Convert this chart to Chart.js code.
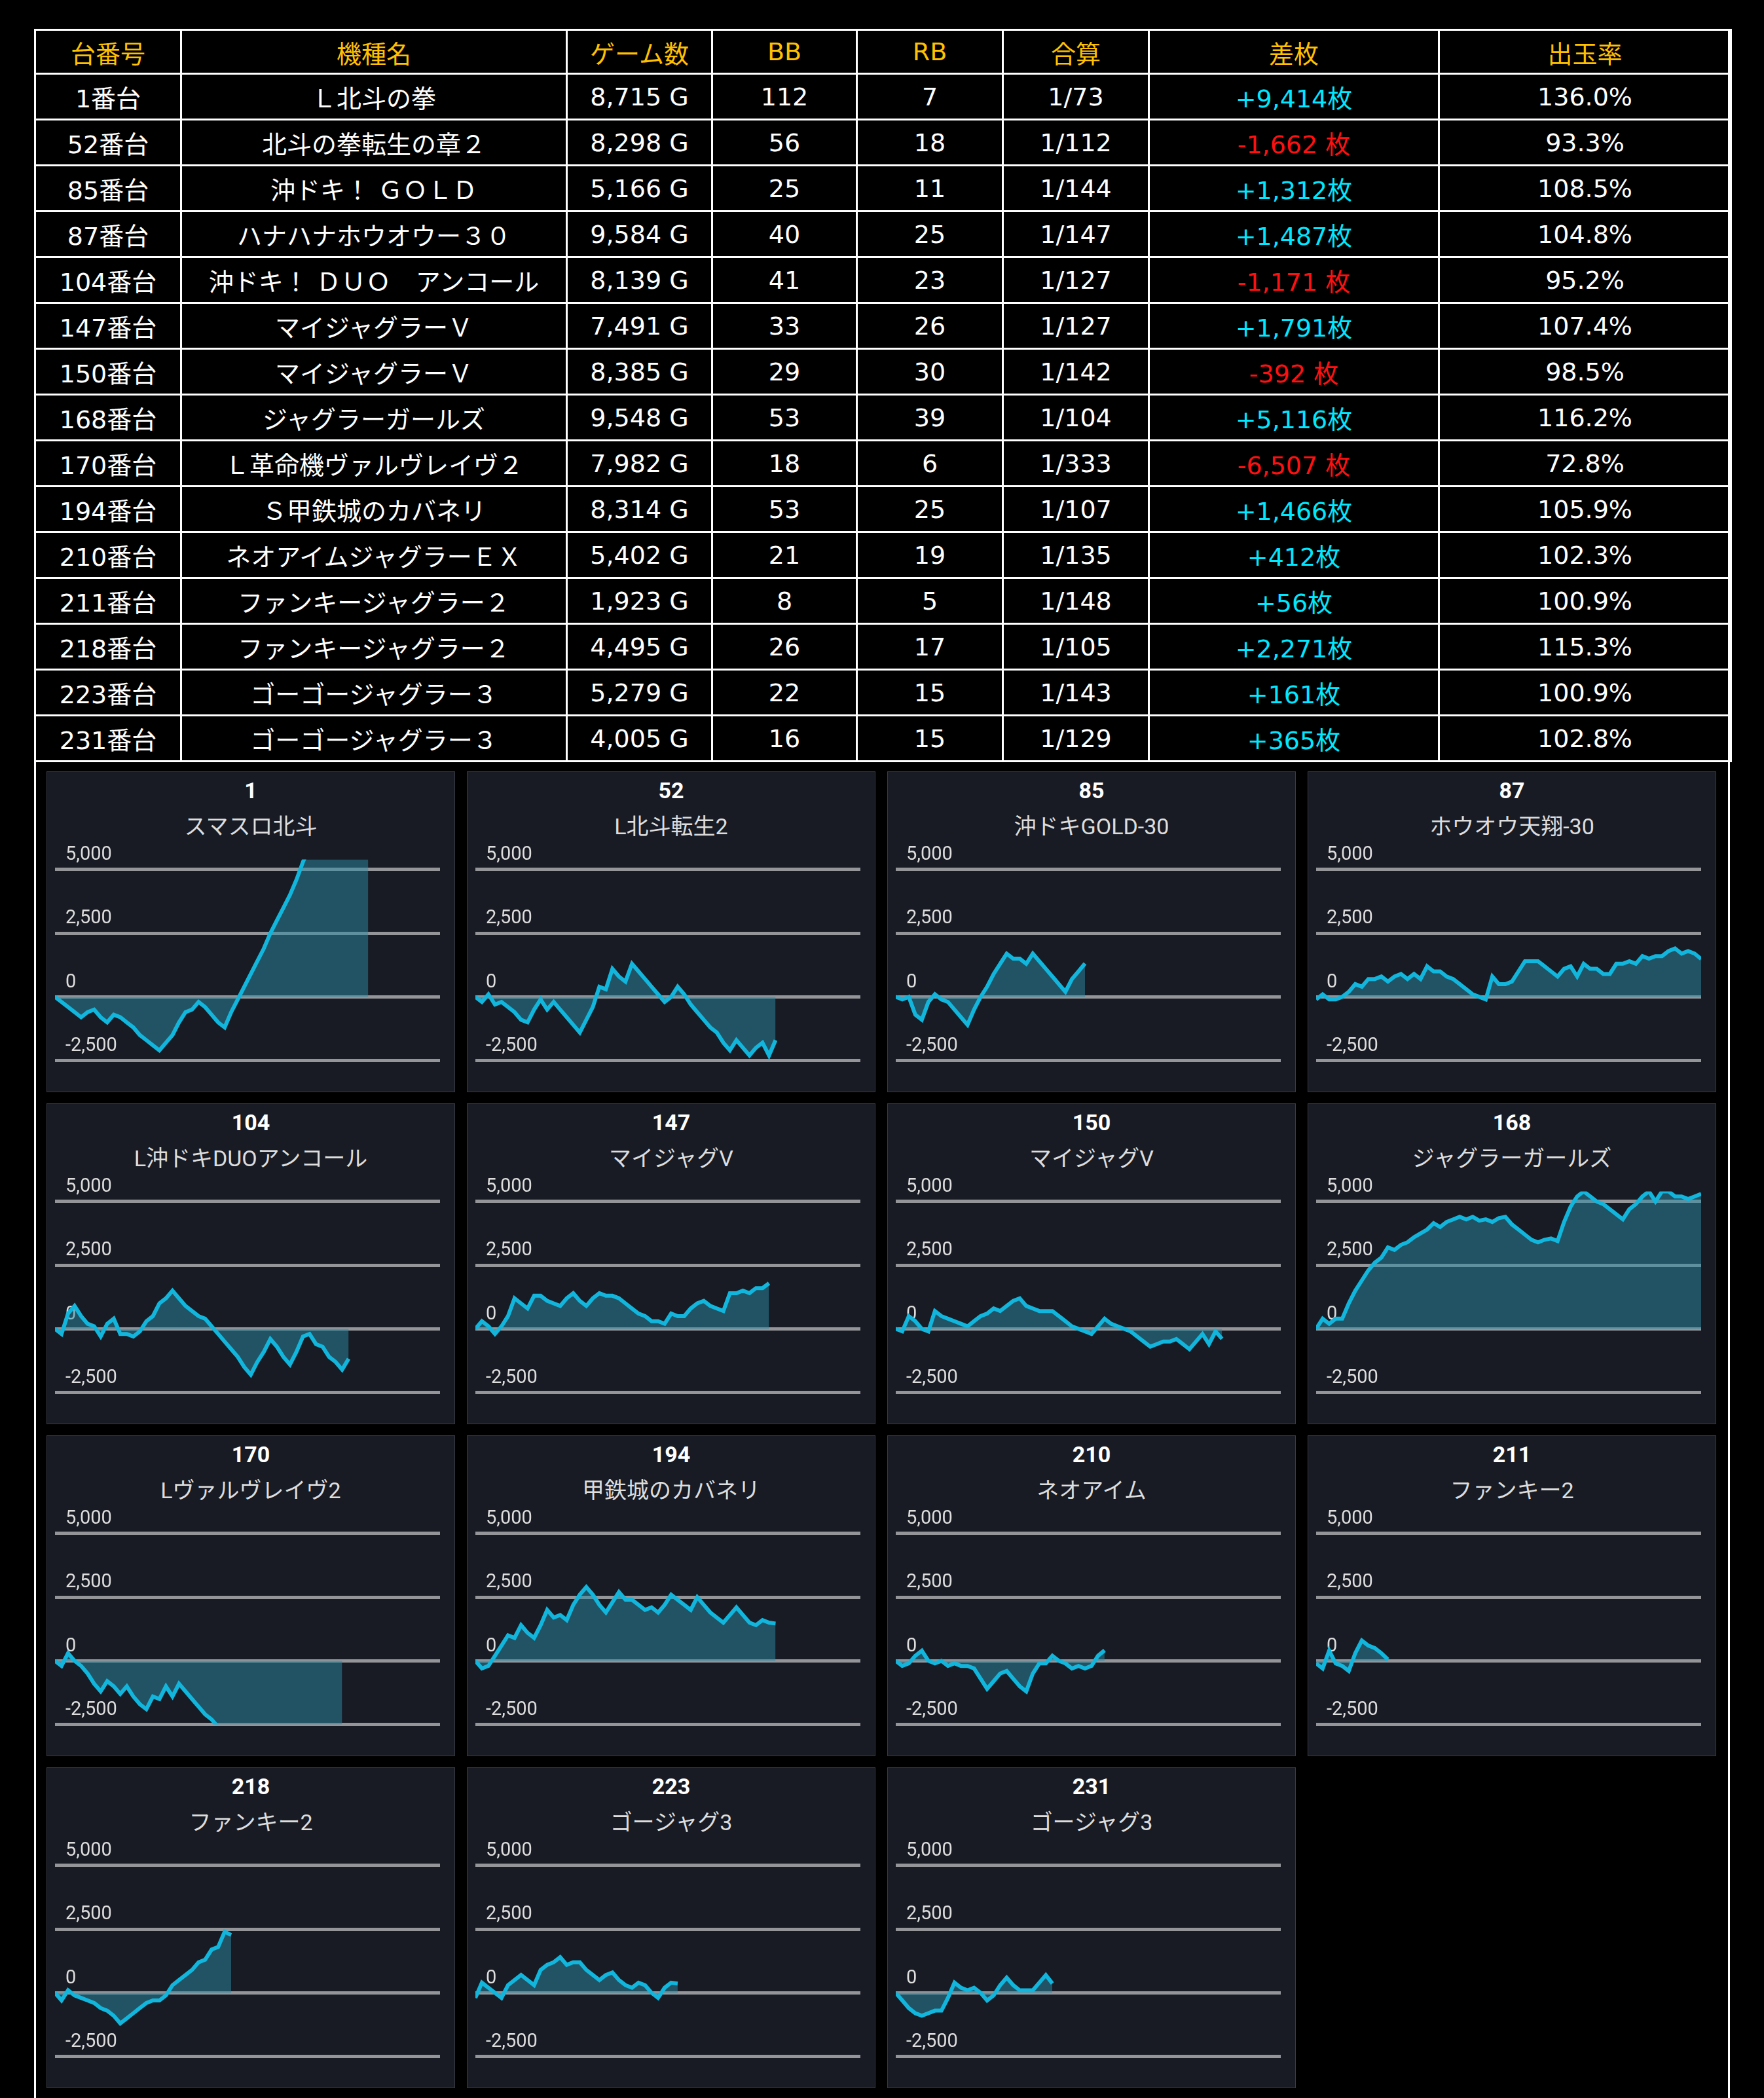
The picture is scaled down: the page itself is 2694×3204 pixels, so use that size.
<!DOCTYPE html>
<html>
<head>
<meta charset="utf-8">
<script src="https://cdn.jsdelivr.net/npm/chart.js@4.4.1/dist/chart.umd.min.js"></script>
<style>
    html, body { margin: 0; padding: 0; background: #000; }
    body { width: 2694px; height: 3204px; position: relative; overflow: hidden;
           font-family: "DejaVu Sans", "Noto Sans CJK JP", sans-serif; }
    .frame { position: absolute; left: 52px; top: 44px; width: 2584px; height: 3200px;
             border: 3px solid #fff; border-bottom: none; }
    table { position: absolute; left: 52px; top: 44px; width: 2590px; border-collapse: collapse;
            table-layout: fixed; color: #fff; font-size: 38px; }
    td, th { border: 3px solid #fff; text-align: center; padding: 0; font-weight: normal; }
    th { color: #ffc000; height: 64px; }
    td { height: 67px; }
    .plus { color: #00e8ff; }
    .minus { color: #ff1010; }
    .panel { position: absolute; width: 622px; height: 488px; background: #181b24;
             border: 1px solid #383b44; }
    .panel .num { position: absolute; top: 8px; width: 100%; text-align: center;
                  color: #fff; font-weight: bold; font-size: 34px; font-family: "Roboto", "Noto Sans CJK JP"; }
    .panel .name { position: absolute; top: 56px; width: 100%; text-align: center;
                   color: #ddd; font-size: 34px; font-family: "Roboto", "Noto Sans CJK JP"; }
    .panel .box { position: absolute; left: 12px; top: 100px; width: 588px; height: 374px; }
</style>
</head>
<body>
<div class="frame"></div>
<table id="tbl">
    <colgroup>
        <col style="width:223px"><col style="width:589px"><col style="width:222px"><col style="width:221px">
        <col style="width:223px"><col style="width:223px"><col style="width:443px"><col style="width:446px">
    </colgroup>
    <thead><tr id="head"></tr></thead>
    <tbody id="body"></tbody>
</table>
<div id="panels"></div>

<script>
// Table data
const HEADERS = ['台番号', '機種名', 'ゲーム数', 'BB', 'RB', '合算', '差枚', '出玉率'];
const MACHINE_NO = ['1番台', '52番台', '85番台', '87番台', '104番台', '147番台', '150番台', '168番台',
    '170番台', '194番台', '210番台', '211番台', '218番台', '223番台', '231番台'];
const MACHINE_NAME = ['Ｌ北斗の拳', '北斗の拳転生の章２', '沖ドキ！ ＧＯＬＤ', 'ハナハナホウオウー３０',
    '沖ドキ！ ＤＵＯ　アンコール', 'マイジャグラーＶ', 'マイジャグラーＶ', 'ジャグラーガールズ',
    'Ｌ革命機ヴァルヴレイヴ２', 'Ｓ甲鉄城のカバネリ', 'ネオアイムジャグラーＥＸ', 'ファンキージャグラー２',
    'ファンキージャグラー２', 'ゴーゴージャグラー３', 'ゴーゴージャグラー３'];
const GAMES = ['8,715 G', '8,298 G', '5,166 G', '9,584 G', '8,139 G', '7,491 G', '8,385 G', '9,548 G',
    '7,982 G', '8,314 G', '5,402 G', '1,923 G', '4,495 G', '5,279 G', '4,005 G'];
const BB = [112, 56, 25, 40, 41, 33, 29, 53, 18, 53, 21, 8, 26, 22, 16];
const RB = [7, 18, 11, 25, 23, 26, 30, 39, 6, 25, 19, 5, 17, 15, 15];
const COMBINED = ['1/73', '1/112', '1/144', '1/147', '1/127', '1/127', '1/142', '1/104',
    '1/333', '1/107', '1/135', '1/148', '1/105', '1/143', '1/129'];
const DIFF = ['+9,414枚', '-1,662 枚', '+1,312枚', '+1,487枚', '-1,171 枚', '+1,791枚', '-392 枚', '+5,116枚',
    '-6,507 枚', '+1,466枚', '+412枚', '+56枚', '+2,271枚', '+161枚', '+365枚'];
const PAYOUT = ['136.0%', '93.3%', '108.5%', '104.8%', '95.2%', '107.4%', '98.5%', '116.2%',
    '72.8%', '105.9%', '102.3%', '100.9%', '115.3%', '100.9%', '102.8%'];

// Panel data
const PANEL_NO = ['1', '52', '85', '87', '104', '147', '150', '168', '170', '194', '210', '211', '218', '223', '231'];
const PANEL_NAME = ['スマスロ北斗', 'L北斗転生2', '沖ドキGOLD-30', 'ホウオウ天翔-30', 'L沖ドキDUOアンコール',
    'マイジャグV', 'マイジャグV', 'ジャグラーガールズ', 'Lヴァルヴレイヴ2', '甲鉄城のカバネリ', 'ネオアイム',
    'ファンキー2', 'ファンキー2', 'ゴージャグ3', 'ゴージャグ3'];
const Y_TICKS = [-2500, 0, 2500, 5000];
const X_SLOTS = 60;

const s1 = [0, -200, -400, -600, -800, -600, -500, -800, -1000, -700, -800, -1000, -1200, -1500, -1700, -1900, -2100,
    -1800, -1500, -1000, -600, -500, -200, -400, -700, -1000, -1200, -600, -100, 400, 900, 1400, 1900, 2500, 3000, 3500,
    4000, 4600, 5300, 5900, 6500, 7000, 7500, 8000, 8400, 8800, 9100, 9300, 9414];
const s52 = [0, -200, 100, -300, -200, -400, -600, -900, -1000, -500, -100, -500, -200, -500, -800, -1100, -1400, -900,
    -400, 400, 300, 1100, 800, 600, 1300, 1000, 700, 400, 100, -200, 0, 400, 100, -300, -600, -900, -1200, -1400, -1800,
    -2100, -1700, -2000, -2300, -2000, -1800, -2300, -1700];
const s85 = [0, -100, 0, -700, -900, -200, 100, -100, -200, -500, -800, -1100, -500, 0, 400, 900, 1300, 1700, 1500,
    1500, 1300, 1700, 1400, 1100, 800, 500, 200, 700, 1000, 1312];
const s87 = [-100, 100, -100, -100, 0, 200, 500, 400, 700, 700, 800, 600, 800, 900, 700, 900, 700, 1200, 1000, 1000,
    800, 700, 500, 300, 100, 0, -100, 800, 500, 500, 600, 1000, 1400, 1400, 1400, 1200, 1000, 800, 1100, 1200, 800,
    1300, 1100, 1100, 900, 900, 1300, 1300, 1400, 1300, 1600, 1500, 1600, 1600, 1800, 1900, 1700, 1800, 1700, 1487];
const s104 = [0, -200, 600, 900, 500, 200, 100, -300, 200, 400, -200, -200, -300, -100, 300, 500, 1000, 1200, 1500,
    1200, 900, 700, 500, 400, 100, -200, -500, -800, -1100, -1500, -1800, -1300, -900, -400, -700, -1100, -1400, -900,
    -300, -200, -600, -700, -1100, -1300, -1600, -1171];
const s147 = [0, 300, 100, -200, 100, 500, 1200, 1000, 800, 1300, 1300, 1100, 1000, 900, 1200, 1400, 1100, 900, 1200,
    1400, 1300, 1300, 1200, 1000, 800, 600, 500, 300, 300, 200, 600, 500, 500, 800, 1000, 1100, 900, 800, 700, 1400,
    1400, 1500, 1400, 1600, 1600, 1791];
const s150 = [0, -100, 500, 300, 0, -100, 700, 500, 400, 300, 200, 100, 300, 500, 600, 800, 700, 900, 1100, 1200, 900,
    800, 700, 700, 700, 500, 300, 100, 0, -100, -200, 100, 400, 200, 100, 0, -100, -300, -500, -700, -600, -500, -500,
    -400, -600, -800, -500, -200, -600, -100, -392];
const s168 = [0, 400, 200, 400, 400, 1000, 1500, 1900, 2300, 2600, 2800, 3200, 3100, 3300, 3400, 3600, 3750, 3900,
    4150, 4000, 4200, 4300, 4400, 4300, 4400, 4250, 4300, 4200, 4350, 4400, 4100, 3900, 3700, 3500, 3400, 3500, 3550,
    3450, 4200, 4800, 5200, 5400, 5200, 5000, 4900, 4700, 4500, 4300, 4700, 4900, 5200, 5400, 5000, 5400, 5400, 5200,
    5200, 5100, 5200, 5300];
const s170 = [0, -200, 300, 0, -200, -500, -900, -1200, -800, -1000, -1300, -1000, -1400, -1700, -1900, -1400, -1500,
    -1000, -1400, -900, -1200, -1500, -1800, -2100, -2300, -2600, -3000, -3300, -3600, -3800, -4000, -4200, -4400,
    -4600, -4800, -5000, -5200, -5400, -5600, -5800, -6000, -6100, -6300, -6400, -6507];
const s194 = [0, -300, -200, 200, 600, 1000, 900, 1400, 1100, 900, 1400, 2000, 1700, 1800, 1600, 2200, 2600, 2900, 2600,
    2200, 1900, 2300, 2700, 2400, 2400, 2200, 2000, 2100, 1900, 2200, 2600, 2400, 2200, 2000, 2500, 2200, 1900, 1700,
    1500, 1800, 2100, 1800, 1500, 1400, 1600, 1500, 1466];
const s210 = [0, -200, -100, 200, 400, 0, -100, 0, -200, -100, -200, -200, -300, -700, -1100, -800, -500, -400, -700,
    -1000, -1200, -500, -100, -100, 200, 0, -100, -300, -200, -300, -200, 200, 412];
const s211 = [-100, -300, 400, -100, -200, -400, 300, 800, 600, 500, 300, 56];
const s218 = [0, -300, 100, -100, -200, -300, -400, -600, -700, -900, -1200, -1000, -800, -600, -400, -300, -300, -100,
    300, 500, 700, 900, 1200, 1300, 1700, 1800, 2400, 2271];
const s223 = [-200, 400, 200, 0, -200, 300, 500, 700, 500, 300, 900, 1100, 1200, 1400, 1100, 1200, 1200, 900, 700, 500,
    700, 800, 500, 300, 200, 400, 300, 0, -200, 200, 400, 365];
const s231 = [0, -300, -600, -800, -900, -800, -700, -700, -200, 400, 200, 100, 200, 0, -300, -100, 300, 600, 300, 100,
    100, 100, 400, 700, 365];
const SERIES = [s1, s52, s85, s87, s104, s147, s150, s168, s170, s194, s210, s211, s218, s223, s231];

function buildTable() {
    document.getElementById('head').innerHTML = HEADERS.map(h => `<th>${h}</th>`).join('');
    const rows = MACHINE_NO.map((no, i) => {
        const cls = DIFF[i].startsWith('-') ? 'minus' : 'plus';
        return `<tr><td>${no}</td><td>${MACHINE_NAME[i]}</td><td>${GAMES[i]}</td><td>${BB[i]}</td>
            <td>${RB[i]}</td><td>${COMBINED[i]}</td><td class="${cls}">${DIFF[i]}</td><td>${PAYOUT[i]}</td></tr>`;
    }).join('');
    document.getElementById('body').innerHTML = rows;
}

function buildPanels() {
    const wrap = document.getElementById('panels');
    const labels = Array.from({ length: X_SLOTS }, (_, i) => i);
    SERIES.forEach((data, i) => {
        const col = i % 4, row = Math.floor(i / 4);
        const panel = document.createElement('div');
        panel.className = 'panel';
        panel.style.left = (71 + col * 642) + 'px';
        panel.style.top = (1178 + row * 507) + 'px';
        panel.innerHTML = `<div class="num">${PANEL_NO[i]}</div><div class="name">${PANEL_NAME[i]}</div>
            <div class="box"><canvas></canvas></div>`;
        wrap.appendChild(panel);

        new Chart(panel.querySelector('canvas'), {
            type: 'line',
            data: {
                labels: labels,
                datasets: [{
                    data: data,
                    borderColor: '#12b6dc',
                    borderWidth: 6,
                    backgroundColor: 'rgba(42, 140, 165, 0.5)',
                    fill: { value: 0 },
                    pointRadius: 0,
                    tension: 0
                }]
            },
            options: {
                responsive: true,
                maintainAspectRatio: false,
                animation: false,
                layout: { padding: { top: 33, bottom: 8, left: 0, right: 0 } },
                plugins: { legend: { display: false }, tooltip: { enabled: false } },
                scales: {
                    x: { display: false, offset: false },
                    y: {
                        min: -2500,
                        max: 5400,
                        afterBuildTicks: scale => { scale.ticks = Y_TICKS.map(v => ({ value: v })); },
                        afterFit: scale => { scale.width = 0; },
                        border: { display: false },
                        grid: { color: '#939599', lineWidth: 5, drawTicks: false },
                        ticks: {
                            mirror: true,
                            padding: 16,
                            labelOffset: -22,
                            color: '#dddddd',
                            font: { size: 29, family: 'Roboto' },
                            callback: v => v.toLocaleString('en-US')
                        }
                    }
                }
            }
        });
    });
}

buildTable();
buildPanels();
</script>
</body>
</html>
